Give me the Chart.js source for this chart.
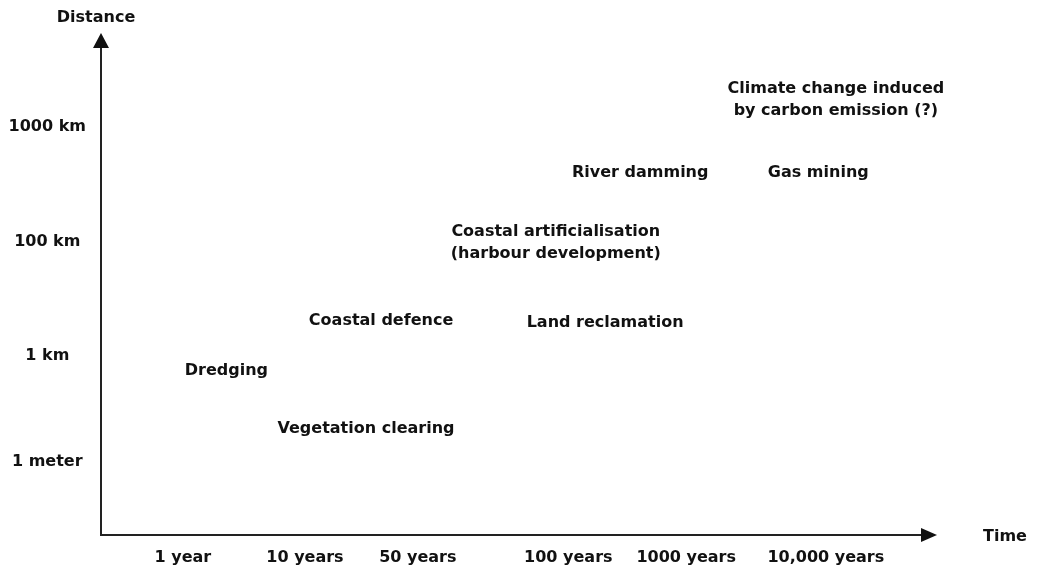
<!DOCTYPE html>
<html>
<head>
<meta charset="utf-8">
<script src="https://cdn.jsdelivr.net/npm/chart.js@4.4.1/dist/chart.umd.min.js"></script>
<style>
	body{margin:0;background:#fff;}
	#caja{width:1043px;height:573px;position:relative;}
</style>
</head>
<body>
<div id="caja"><canvas id="Grafico1"></canvas></div>
<script>
// activities and where they sit (time scale, distance scale), arbitrary 0-100 units
let actividades=[
	['Climate change induced','by carbon emission (?)'],
	'River damming',
	'Gas mining',
	['Coastal artificialisation','(harbour development)'],
	'Coastal defence',
	'Land reclamation',
	'Dredging',
	'Vegetation clearing'
];
let tiempo=[87.9,64.5,85.8,54.4,33.5,60.3,15.0,31.7];
let distancia=[87.1,72.5,72.5,58.5,43.0,42.6,33.1,21.5];

// axis ticks
let xTicksPos=[9.8,24.4,37.9,55.9,70.0,86.7];
let xTicksTxt=['1 year','10 years','50 years','100 years','1000 years','10,000 years'];
let yTicksPos=[14.5,35.7,58.4,81.3];
let yTicksTxt=['1 meter','1 km','100 km','1000 km'];

let fuente='"DejaVu Sans", Verdana, sans-serif';

let puntos=tiempo.map((t,i)=>({x:t,y:distancia[i]}));

let etiquetas={
	id:'etiquetas',
	afterDatasetsDraw(chart){
		let ctx=chart.ctx;
		let meta=chart.getDatasetMeta(0);
		ctx.save();
		ctx.fillStyle='#111';
		ctx.font='bold 16px '+fuente;
		ctx.textAlign='center';
		ctx.textBaseline='middle';
		meta.data.forEach((p,i)=>{
			let txt=actividades[i];
			if(Array.isArray(txt)){
				let alto=22;
				txt.forEach((linea,j)=>{
					ctx.fillText(linea,p.x,p.y+2+(j-(txt.length-1)/2)*alto);
				});
			}else{
				ctx.fillText(txt,p.x,p.y+2);
			}
		});
		ctx.restore();
	},
	afterDraw(chart){
		let ctx=chart.ctx;
		let a=chart.chartArea;
		ctx.save();
		ctx.strokeStyle='#222';
		ctx.fillStyle='#111';
		ctx.lineWidth=2;
		/*ejes*/
		ctx.beginPath();
		ctx.moveTo(a.left,a.top+14);
		ctx.lineTo(a.left,a.bottom);
		ctx.lineTo(a.right-14,a.bottom);
		ctx.stroke();
		/*flechas*/
		ctx.beginPath();
		ctx.moveTo(a.left,a.top);
		ctx.lineTo(a.left-8,a.top+15);
		ctx.lineTo(a.left+8,a.top+15);
		ctx.closePath();
		ctx.fill();
		ctx.beginPath();
		ctx.moveTo(a.right,a.bottom);
		ctx.lineTo(a.right-16,a.bottom-7);
		ctx.lineTo(a.right-16,a.bottom+7);
		ctx.closePath();
		ctx.fill();
		/*titulos*/
		ctx.font='bold 16px '+fuente;
		ctx.textAlign='center';
		ctx.textBaseline='middle';
		ctx.fillText('Distance',a.left-5,a.top-15);
		ctx.fillText('Time',a.right+68,a.bottom+2);
		ctx.restore();
	}
};

let CanvasG1=document.getElementById('Grafico1').getContext('2d');
let G1=new Chart(CanvasG1,{
	type:'scatter',
	data:{
		datasets:[{
			data:puntos,
			pointRadius:0,
			pointHoverRadius:0,
			showLine:false
		}]
	},
	options:{
		responsive:true,
		maintainAspectRatio:false,
		animation:false,
		layout:{padding:{left:0,right:106,top:33,bottom:0}},
		plugins:{legend:{display:false},tooltip:{enabled:false}},
		scales:{
			x:{
				type:'linear',
				min:0,
				max:100,
				grid:{display:false,drawTicks:false},
				border:{display:false},
				afterFit(s){s.height=38;},
				afterBuildTicks(s){s.ticks=xTicksPos.map(v=>({value:v}));},
				ticks:{
					autoSkip:false,
					maxRotation:0,
					padding:13,
					color:'#111',
					font:{family:fuente,size:16,weight:'bold'},
					callback:(v)=>{let i=xTicksPos.indexOf(v);return i<0?'':xTicksTxt[i];}
				}
			},
			y:{
				type:'linear',
				min:0,
				max:100,
				grid:{display:false,drawTicks:false},
				border:{display:false},
				afterFit(s){s.width=101;},
				afterBuildTicks(s){s.ticks=yTicksPos.map(v=>({value:v}));},
				ticks:{
					autoSkip:false,
					crossAlign:'center',
					padding:15,
					color:'#111',
					font:{family:fuente,size:16,weight:'bold'},
					callback:(v)=>{let i=yTicksPos.indexOf(v);return i<0?'':yTicksTxt[i];}
				}
			}
		}
	},
	plugins:[etiquetas]
});
</script>
</body>
</html>
